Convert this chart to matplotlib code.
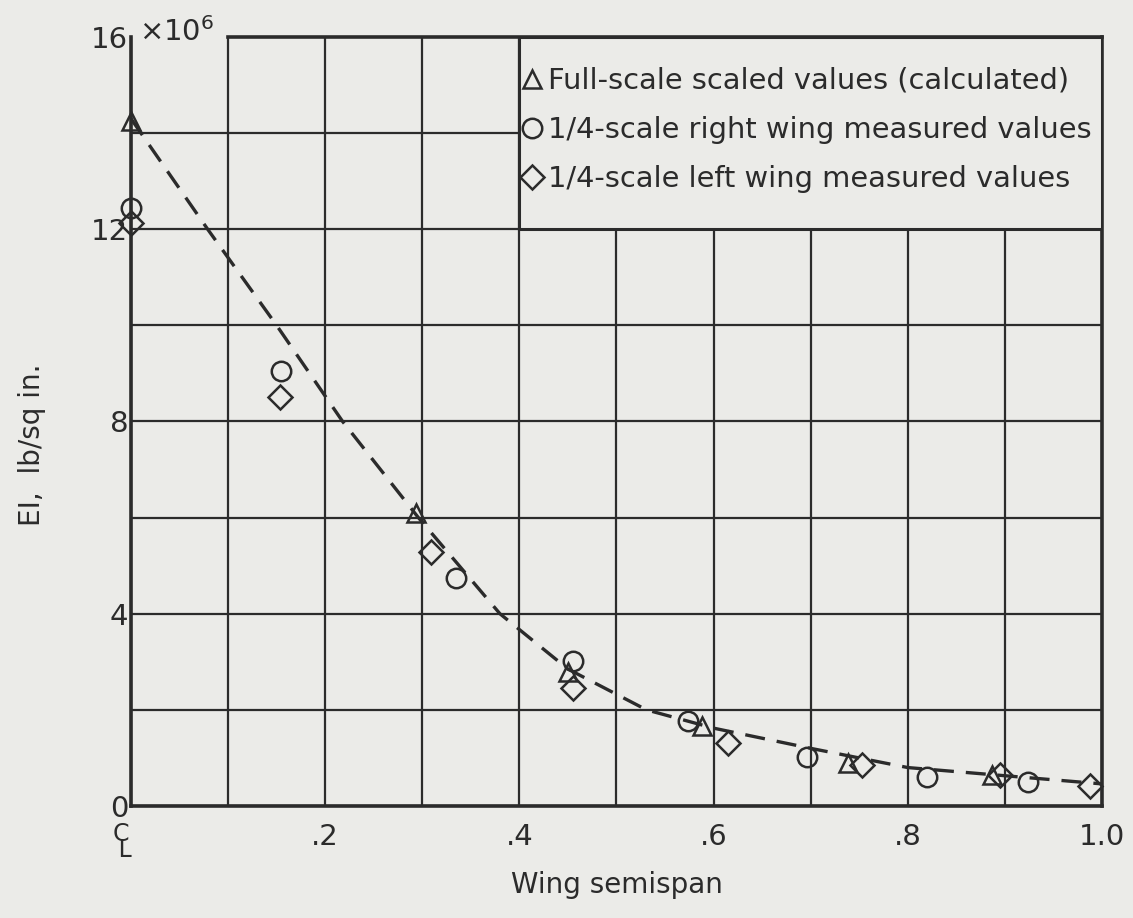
import matplotlib.pyplot as plt
from matplotlib.patches import Rectangle

# full-scale scaled values (calculated)
tri_x = [0.0, 0.294, 0.450, 0.588, 0.738, 0.887]
tri_y = [14.25, 6.10, 2.79, 1.66, 0.89, 0.64]

# 1/4-scale right wing measured values
circ_x = [0.0, 0.154, 0.335, 0.455, 0.574, 0.696, 0.820, 0.924]
circ_y = [12.45, 9.06, 4.74, 3.01, 1.77, 1.02, 0.60, 0.50]

# 1/4-scale left wing measured values
diam_x = [0.0, 0.153, 0.309, 0.455, 0.615, 0.753, 0.895, 0.988]
diam_y = [12.14, 8.52, 5.28, 2.45, 1.31, 0.85, 0.64, 0.42]

# faired curve (dashed)
curve_x = [0.0, 0.079, 0.150, 0.218, 0.296, 0.380, 0.450, 0.531, 0.600, 0.700, 0.800, 0.900, 1.000]
curve_y = [14.3, 12.0, 10.0, 8.0, 6.0, 4.0, 2.85, 2.0, 1.62, 1.2, 0.8, 0.63, 0.46]

x_ticks = [0, 0.1, 0.2, 0.3, 0.4, 0.5, 0.6, 0.7, 0.8, 0.9, 1.0]
x_labels = ['', '', '.2', '', '.4', '', '.6', '', '.8', '', '1.0']
y_ticks = [0, 2, 4, 6, 8, 10, 12, 14, 16]
y_labels = ['0', '', '4', '', '8', '', '12', '', '16']

paper = '#ebebe8'
ink = '#2b2b2b'

plt.rcParams['font.family'] = ['DejaVu Sans']

fig = plt.figure(figsize=(11.33, 9.18), dpi=100, facecolor=paper)
ax = fig.add_axes([0.1156, 0.122, 0.857, 0.8377])
ax.set_facecolor(paper)

ax.set_xlim(0, 1.0)
ax.set_ylim(0, 16)
ax.set_xticks(x_ticks)
ax.set_xticklabels(x_labels)
ax.set_yticks(y_ticks)
ax.set_yticklabels(y_labels)
ax.tick_params(length=0, labelsize=21, colors=ink)
ax.tick_params(axis='x', pad=12)
ax.tick_params(axis='y', pad=2)
ax.grid(True, color=ink, linewidth=1.6)
ax.set_axisbelow(True)
ax.yaxis.get_gridlines()[-1].set_visible(False)

for s in ax.spines.values():
    s.set_color(ink)
    s.set_linewidth(2.6)
ax.spines['top'].set_bounds(0.1, 1.0)

ax.plot(curve_x, curve_y, color=ink, linewidth=2.4, linestyle=(0, (6, 3.6)), zorder=3)

mk = dict(linestyle='none', markerfacecolor='none', markeredgecolor=ink,
          markeredgewidth=1.8, clip_on=False, zorder=4)
ax.plot(tri_x, tri_y, marker='^', markersize=13, label='Full-scale scaled values (calculated)', **mk)
ax.plot(circ_x, circ_y, marker='o', markersize=14, label='1/4-scale right wing measured values', **mk)
ax.plot(diam_x, diam_y, marker='D', markersize=12.5, label='1/4-scale left wing measured values', **mk)

# legend box covers the grid in the upper right block
ax.add_patch(Rectangle((0.4, 12), 0.6, 4, facecolor=paper, edgecolor=ink,
                       linewidth=2.2, zorder=5))
leg = ax.legend(loc='upper left', bbox_to_anchor=(0.398, 15.5), bbox_transform=ax.transData,
                frameon=False, fontsize=20.8, handlelength=0.6, handletextpad=0.25,
                labelspacing=0.73, borderaxespad=0, borderpad=0.2)
leg.set_zorder(6)
for t in leg.get_texts():
    t.set_color(ink)

ax.text(0.008, 16.1, '\u00d710$^6$', fontsize=21, color=ink, va='center', ha='left')

# centre-line symbol at the root (C over L)
ax.annotate('C\n L', xy=(0, 0), xytext=(-7, -26), textcoords='offset points',
            ha='center', va='center', fontsize=17, color=ink, linespacing=0.6,
            annotation_clip=False)

ax.set_xlabel('Wing semispan', fontsize=20, color=ink)
ax.xaxis.set_label_coords(0.5, -0.085)
ax.set_ylabel('EI,  lb/sq in.', fontsize=20, color=ink)
ax.yaxis.set_label_coords(-0.088, 0.47)

fig.savefig('out.png', dpi=100, facecolor=paper)
